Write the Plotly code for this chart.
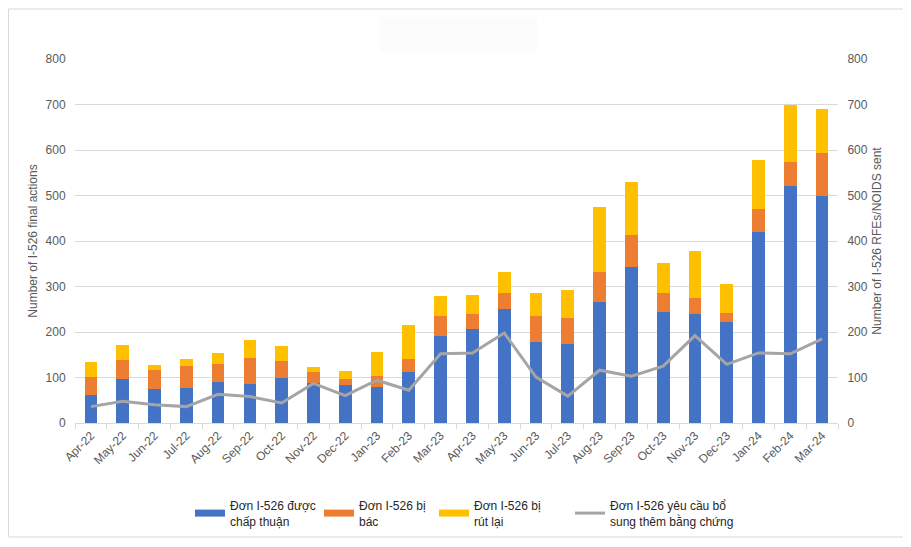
import plotly.graph_objects as go

months = ["Apr-22","May-22","Jun-22","Jul-22","Aug-22","Sep-22","Oct-22","Nov-22","Dec-22",
          "Jan-23","Feb-23","Mar-23","Apr-23","May-23","Jun-23","Jul-23","Aug-23","Sep-23",
          "Oct-23","Nov-23","Dec-23","Jan-24","Feb-24","Mar-24"]
approved = [62,96,75,78,91,85,100,87,83,79,112,191,207,251,177,173,265,343,245,239,221,420,520,500]
denied = [40,42,41,47,38,58,37,26,13,24,29,45,33,35,59,57,66,71,41,36,20,51,53,93]
withdrawn = [32,34,12,16,25,39,32,9,18,53,75,44,42,45,49,62,144,116,66,103,64,107,127,98]
rfe = [36,48,40,36,63,58,44,87,60,94,72,152,154,198,101,59,116,103,125,192,129,154,152,185]

names = ["Đơn I-526 được<br>chấp thuận", "Đơn I-526 bị<br>bác", "Đơn I-526 bị<br>rút lại",
         "Đơn I-526 yêu cầu bổ<br>sung thêm bằng chứng"]
colors = ["#4472C4", "#ED7D31", "#FFC000", "#A5A5A5"]
legend_ids = ["legend", "legend2", "legend3", "legend4"]

# The page body has an 8px margin: figure origin sits at (8, 8) in the screenshot.
OFF = 8
FW, FH = 911 - OFF, 547 - OFF
# plot area in screenshot pixels
L, R, T, B = 75, 838, 59, 423
W, H = R - L, B - T
def px_x(p): return (p - L) / W
def px_y(p): return (B - p) / H

fig = go.Figure()
for vals, c in zip([approved, denied, withdrawn], colors[:3]):
    fig.add_trace(go.Bar(x=months, y=vals, showlegend=False,
                         marker=dict(color=c, line=dict(width=0))))
fig.add_trace(go.Scatter(x=months, y=rfe, mode="lines", yaxis="y2", showlegend=False,
                         line=dict(color=colors[3], width=3)))
# legend entries
widths = [7, 7, 7, 3]
for nm, c, lg, w in zip(names, colors, legend_ids, widths):
    fig.add_trace(go.Scatter(x=[None], y=[None], mode="lines", name=nm, legend=lg,
                             line=dict(color=c, width=w)))

legfont = dict(family="Liberation Sans, Arial", size=12, color="#262626")
text_starts = [230, 359, 474, 610]
legends = {}
for lg, ts in zip(legend_ids, text_starts):
    legends[lg] = dict(x=px_x(ts - 40), xanchor="left", y=px_y(491), yanchor="top",
                       font=legfont, itemwidth=30, valign="middle", bgcolor="rgba(0,0,0,0)")

tickfont = dict(family="Liberation Sans, Arial", size=12, color="#595959")
fig.update_layout(
    width=FW, height=FH,
    margin=dict(l=L - OFF, r=FW - (R - OFF), t=T - OFF, b=FH - (B - OFF), autoexpand=False),
    paper_bgcolor="white", plot_bgcolor="white",
    barmode="stack", bargap=0.6,
    font=dict(family="Liberation Sans, Arial", color="#595959"),
    xaxis=dict(tickangle=-45, tickfont=tickfont, showline=True, linecolor="#d9d9d9",
               ticks="outside", tickson="boundaries", ticklen=5, tickcolor="#d9d9d9",
               showgrid=False, automargin=False),
    yaxis=dict(range=[0, 800], dtick=100, tickfont=tickfont, gridcolor="#d9d9d9",
               ticks="outside", ticklen=6, tickcolor="white", zeroline=False, automargin=False,
               title=dict(text="Number of I-526 final actions",
                          font=dict(size=12, color="#595959"), standoff=5)),
    yaxis2=dict(range=[0, 800], dtick=100, overlaying="y", side="right", tickfont=tickfont,
                showgrid=False, zeroline=False, ticks="outside", ticklen=6, tickcolor="white",
                automargin=False,
                title=dict(text="Number of I-526 RFEs/NOIDS sent",
                           font=dict(size=12, color="#595959"), standoff=5)),
    shapes=[dict(type="rect", xref="paper", yref="paper", x0=px_x(8.5), x1=px_x(904.5),
                 y0=px_y(537), y1=px_y(9),
                 line=dict(color="#d9d9d9", width=1), fillcolor="rgba(0,0,0,0)", layer="below"),
            dict(type="rect", xref="paper", yref="paper", x0=px_x(380), x1=px_x(537),
                 y0=px_y(52), y1=px_y(17), line=dict(width=0), fillcolor="#fcfcfc", layer="below")],
    **legends,
)
fig.write_html("out.html")
